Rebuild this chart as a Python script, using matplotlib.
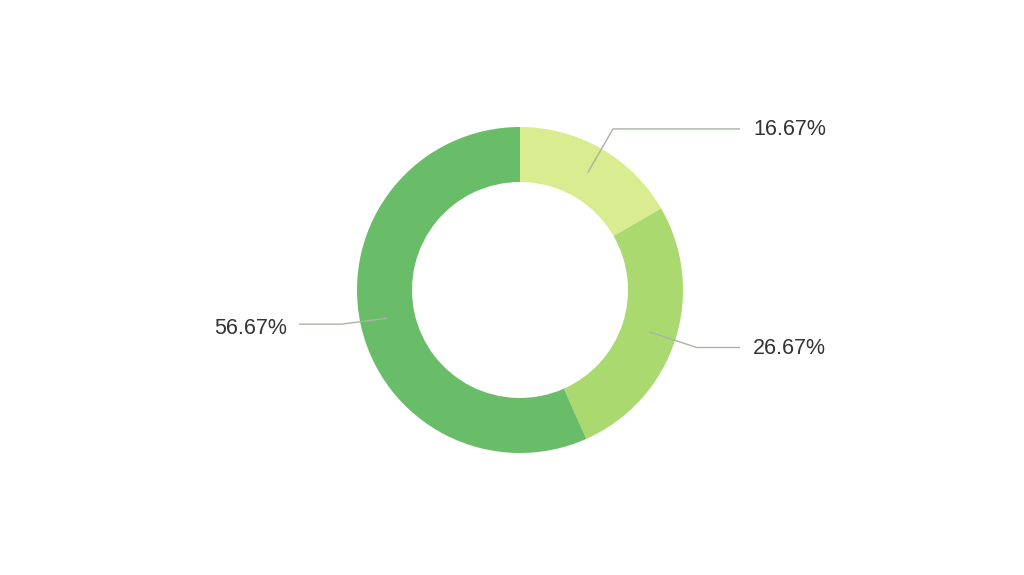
import numpy as np
import matplotlib
matplotlib.use('Agg')
import matplotlib.pyplot as plt

# share of each slice, clockwise from the top
values = [16.67, 26.67, 56.67]
labels = ['16.67%', '26.67%', '56.67%']
colors = ['#d9ec8f', '#aad970', '#6abd68']

W, H = 1024, 575
fig = plt.figure(figsize=(W / 100, H / 100), dpi=100)
ax = fig.add_axes([0, 0, 1, 1])

cx, cy = 520, H - 290
R = 163
width = 55

wedges, _ = ax.pie(values, colors=colors, startangle=90, counterclock=False,
                   radius=R, center=(cx, cy), frame=True,
                   wedgeprops=dict(width=width, linewidth=0))
ax.set_xlim(0, W)
ax.set_ylim(0, H)
ax.set_aspect('equal')
ax.axis('off')

for w, lab in zip(wedges, labels):
    ang = np.deg2rad((w.theta1 + w.theta2) / 2)
    r0 = R - width / 2
    r1 = R + 23
    x0, y0 = cx + r0 * np.cos(ang), cy + r0 * np.sin(ang)
    if np.cos(ang) >= 0:
        x1, y1 = cx + r1 * np.cos(ang), cy + r1 * np.sin(ang)
        x2 = 740
        ax.plot([x0, x1, x2], [y0, y1, y1], color='#a8b4a6', lw=1, solid_capstyle='butt')
        ax.text(x2 + 13, y1 - 1, lab, ha='left', va='center', fontsize=15.5,
                family='Liberation Sans', color='#333333')
    else:
        # the left leader bends in shallow, not along the radius
        x1, y1 = x0 - 46, y0 - 6
        x2 = 299
        ax.plot([x0, x1, x2], [y0, y1, y1], color='#a8b4a6', lw=1, solid_capstyle='butt')
        ax.text(x2 - 12, y1 - 4, lab, ha='right', va='center', fontsize=15.5,
                family='Liberation Sans', color='#333333')

fig.savefig('out.png', dpi=100, facecolor='white')
